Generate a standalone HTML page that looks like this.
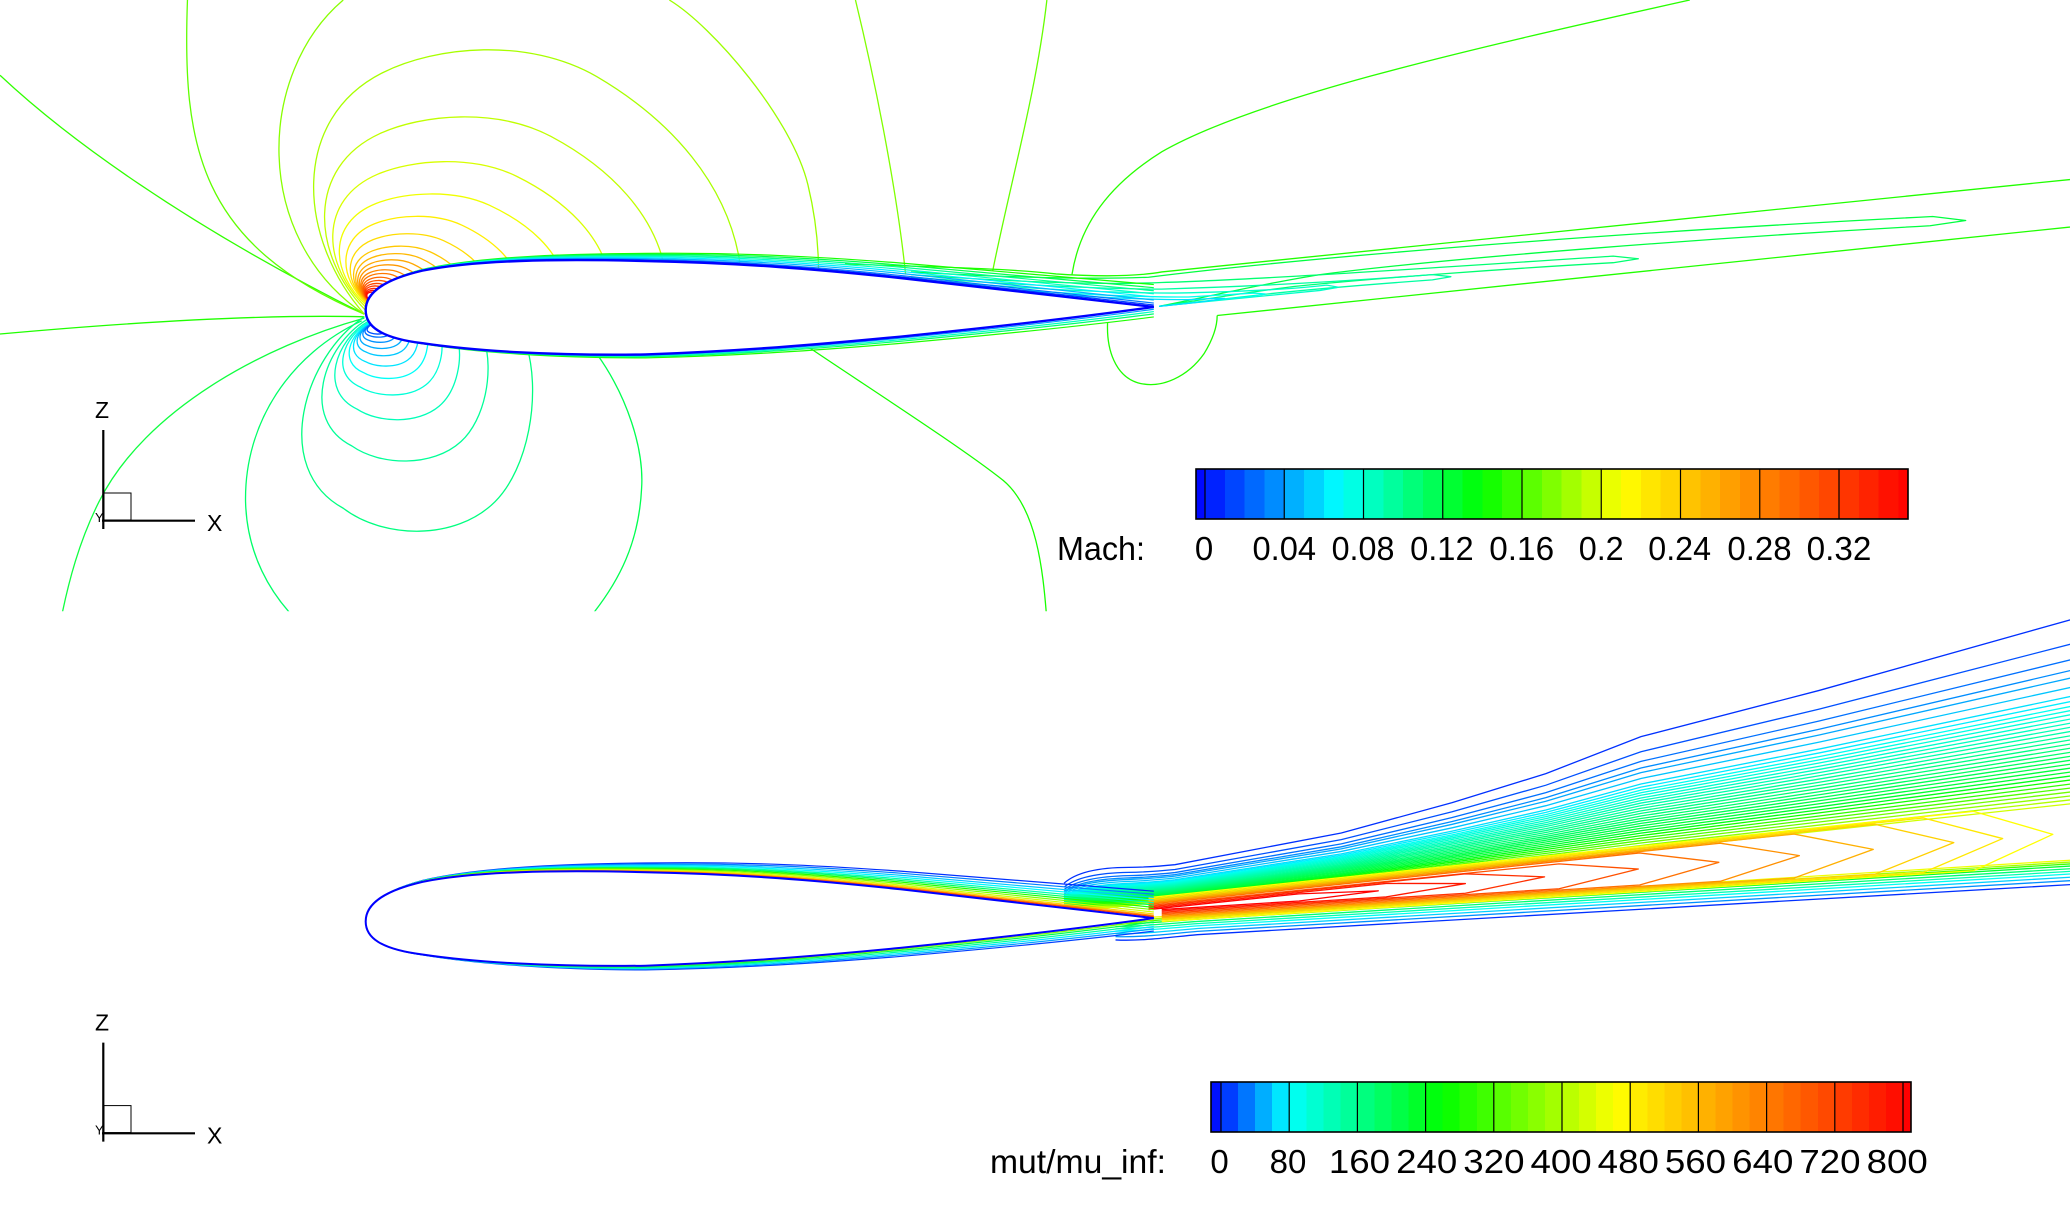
<!DOCTYPE html>
<html>
<head>
<meta charset="utf-8">
<style>
html,body{margin:0;padding:0;background:#fff;overflow:hidden}
svg{display:block}
.c path{fill:none;vector-effect:non-scaling-stroke;stroke-linejoin:round}
text{font-family:"Liberation Sans",Arial,sans-serif;fill:#000}
</style>
</head>
<body>
<svg xmlns="http://www.w3.org/2000/svg" width="2070" height="1227" viewBox="0 0 2070 1227">
<defs>
<clipPath id="ct"><rect x="0" y="0" width="1568" height="463"/></clipPath>
<clipPath id="cb"><rect x="0" y="463.5" width="1568" height="467"/></clipPath>
<path id="up" fill="none" vector-effect="non-scaling-stroke" d="M277,235 C277,222 290,212 320,205 C360,197 420,196 489,197.7 C560,199 620,204 682,210.6 C760,219 820,226 874,232.5"/>
<path id="lo" fill="none" vector-effect="non-scaling-stroke" d="M277,235 C277,247 288,256 320,260 C360,266 420,269.5 489,268.5 C560,266 620,261 682,255 C760,247 820,240 874,232.5"/>
<path id="afp" vector-effect="non-scaling-stroke" d="M277,235 C277,222 290,212 320,205 C360,197 420,196 489,197.7 C560,199 620,204 682,210.6 C760,219 820,226 874,232.5 C820,240 760,247 682,255 C620,261 560,266 489,268.5 C420,269.5 360,266 320,260 C288,256 277,247 277,235 Z"/>
<path id="arc" fill="none" vector-effect="non-scaling-stroke" d="M276,238 C225,180 220,90 290,55 C330,35 400,28 452,58 C510,92 550,140 560,196 L561,212"/>
<path id="lp" fill="none" vector-effect="non-scaling-stroke" d="M276,240 C230,270 205,355 260,385 C290,408 345,410 375,380 C400,355 410,300 399,262 L398,250"/>
<path id="fu" fill="none" vector-effect="non-scaling-stroke" d="M806,669 C815,661 832,657 855,657 C870,657 880,656 890,655 L1016,631 L1100,608 L1171,586 L1243,558 L1378,523 L1570,469"/>
<path id="fl" fill="none" vector-effect="non-scaling-stroke" d="M845,712 C865,713 885,710 907,708 L1570,670"/>
</defs>
<rect width="2070" height="1227" fill="#fff"/>

<g transform="scale(1.32015)">
<!-- ================= TOP PANEL (Mach) ================= -->
<g clip-path="url(#ct)" class="c" stroke-width="1.3">
<path d="M0,57 C50,104 140,170 276,238" stroke="#30ff00"/>
<path d="M142,0 C138,110 150,185 276,238" stroke="#60ff00"/>
<path d="M260,0 C195,55 190,180 276,238" stroke="#88ff00"/>
<path d="M507,0 C540,20 600,90 612,140 C618,165 620,185 620,205" stroke="#9cff00"/>
<path d="M648,0 C665,70 680,150 686,208" stroke="#80ff00"/>
<path d="M793,0 C785,70 765,140 752,205" stroke="#66ff00"/>
<path d="M812,208 C818,170 840,140 880,115 C950,75 1100,40 1280,0" stroke="#28ff00"/>
<path d="M0,253 C100,244 200,238 276,240" stroke="#20ff00"/>
<path d="M276,241 C200,262 110,310 75,380 C60,410 52,440 46,470" stroke="#10ff40"/>
<path d="M274,243 C220,268 185,320 186,380 C187,420 205,450 225,470" stroke="#00ff68"/>
<path d="M452,268 C475,300 488,340 486,370 C484,410 470,440 445,470" stroke="#00ff50"/>
<path d="M614,264 C660,295 730,340 760,364 C785,385 790,430 793,470" stroke="#18ff00"/>

<use href="#arc" stroke="#a8ff00"/>
<use href="#arc" transform="matrix(.80,0,0,.73,55.8,61.02)" stroke="#c0ff00"/>
<use href="#arc" transform="matrix(.65,0,0,.55,97.65,101.7)" stroke="#d8ff00"/>
<use href="#arc" transform="matrix(.53,0,0,.42,131.13,131.08)" stroke="#f0ff00"/>
<use href="#arc" transform="matrix(.41,0,0,.33,164.61,151.42)" stroke="#ffee00"/>
<use href="#arc" transform="matrix(.33,0,0,.26,186.93,167.24)" stroke="#ffdc00"/>
<use href="#arc" transform="matrix(.27,0,0,.21,203.67,178.54)" stroke="#ffc800"/>
<use href="#arc" transform="matrix(.23,0,0,.18,214.83,185.32)" stroke="#ffb800"/>
<use href="#arc" transform="matrix(.195,0,0,.155,224.6,190.97)" stroke="#ffa800"/>
<use href="#arc" transform="matrix(.165,0,0,.135,232.97,195.49)" stroke="#ff9800"/>
<use href="#arc" transform="matrix(.14,0,0,.115,239.94,200.01)" stroke="#ff8800"/>
<use href="#arc" transform="matrix(.12,0,0,.10,245.52,203.4)" stroke="#ff7800"/>
<use href="#arc" transform="matrix(.10,0,0,.085,251.1,206.79)" stroke="#ff6800"/>
<use href="#arc" transform="matrix(.085,0,0,.072,255.29,209.73)" stroke="#ff5800"/>
<use href="#arc" transform="matrix(.07,0,0,.06,259.47,212.44)" stroke="#ff4800"/>
<use href="#arc" transform="matrix(.058,0,0,.05,262.82,214.7)" stroke="#ff3800"/>
<use href="#arc" transform="matrix(.047,0,0,.04,265.89,216.96)" stroke="#ff2800"/>
<use href="#arc" transform="matrix(.037,0,0,.032,268.68,218.77)" stroke="#ff1800"/>
<use href="#arc" transform="matrix(.028,0,0,.025,271.19,220.35)" stroke="#ff0800"/>

<use href="#lp" stroke="#00ff80"/>
<use href="#lp" transform="matrix(.72,0,0,.66,79.24,83.64)" stroke="#00ff98"/>
<use href="#lp" transform="matrix(.54,0,0,.46,130.18,132.84)" stroke="#00ffb8"/>
<use href="#lp" transform="matrix(.43,0,0,.34,161.31,162.36)" stroke="#00ffd8"/>
<use href="#lp" transform="matrix(.34,0,0,.26,186.78,182.04)" stroke="#00fff8"/>
<use href="#lp" transform="matrix(.28,0,0,.20,203.76,196.8)" stroke="#00e4ff"/>
<use href="#lp" transform="matrix(.23,0,0,.15,217.91,209.1)" stroke="#00c8ff"/>
<use href="#lp" transform="matrix(.19,0,0,.115,229.23,217.71)" stroke="#00acff"/>
<use href="#lp" transform="matrix(.15,0,0,.085,240.55,225.09)" stroke="#0090ff"/>
<use href="#lp" transform="matrix(.12,0,0,.06,249.04,231.24)" stroke="#0070ff"/>
<use href="#lp" transform="matrix(.09,0,0,.045,257.53,234.93)" stroke="#0050ff"/>

<path d="M640,200 C700,202 760,203 800,207.5 C830,209.5 860,209.5 880,206 L1568,136" stroke="#20ff00"/>
<path d="M690,206 C760,210 820,212 870,210 C950,200 1150,180 1464,164 L1489,167 L1462,171 C1300,180 1100,195 1000,208 C950,216 910,226 878,232" stroke="#00ff40"/>
<path d="M690,208 C760,213 830,216 880,214 C950,212 1100,202 1222,194 L1241,196 L1222,199 C1150,203 1050,210 980,217 C940,222 905,228 878,232" stroke="#00ff70"/>
<path d="M690,210 C760,215 830,219 880,219 C950,217 1020,213 1085,208 L1099,209.6 L1085,212 C1030,216 980,220 940,225 C915,228 895,230 878,232" stroke="#00ffa0"/>
<path d="M700,212 C780,219 840,222 890,222 C940,221 980,219 1005,216 L1014,217.6 L1000,220 C960,224 920,228 878,232" stroke="#00ffc8"/>
<path d="M710,214 C790,222 850,225 900,225 L950,222 L958.6,222.7 L945,225 C920,227 900,230 878,232" stroke="#00ffee"/>
<path d="M720,216 C800,224 860,227 900,227 L920,226 L927.6,226 L915,228 C900,230 888,231 878,232" stroke="#00e0ff"/>
<path d="M922,239 L1568,172" stroke="#20ff00"/>
<path d="M839,244 C838,265 845,285 862,290 C880,295 900,285 912,268 C920,255 922,245 922,239" stroke="#20ff00"/>

<g stroke-width="1.2">
<use href="#up" transform="matrix(1,-.029,0,1,0,8.41)" stroke="#18ff00"/>
<use href="#up" transform="matrix(1,-.025,0,1,0,7.25)" stroke="#00ff50"/>
<use href="#up" transform="matrix(1,-.021,0,1,0,6.09)" stroke="#00ff90"/>
<use href="#up" transform="matrix(1,-.017,0,1,0,4.93)" stroke="#00ffc8"/>
<use href="#up" transform="matrix(1,-.013,0,1,0,3.77)" stroke="#00f0ff"/>
<use href="#up" transform="matrix(1,-.009,0,1,0,2.61)" stroke="#00b8ff"/>
<use href="#up" transform="matrix(1,-.005,0,1,0,1.45)" stroke="#0078ff"/>
<use href="#up" transform="matrix(1,-.0025,0,1,0,.725)" stroke="#0040ff"/>
<use href="#lo" transform="matrix(1,.013,0,1,0,-3.77)" stroke="#20ff00"/>
<use href="#lo" transform="matrix(1,.009,0,1,0,-2.61)" stroke="#00ff70"/>
<use href="#lo" transform="matrix(1,.006,0,1,0,-1.74)" stroke="#00ffc0"/>
<use href="#lo" transform="matrix(1,.003,0,1,0,-.87)" stroke="#00a0ff"/>
</g>
<use href="#afp" fill="#ffffff" stroke="#0000ff" stroke-width="2.4"/>
</g>

<!-- ================= BOTTOM PANEL (mut/mu_inf) ================= -->
<g clip-path="url(#cb)" class="c" stroke-width="1.3">
<use href="#fu" stroke="#0030ff"/>
<use href="#fu" transform="matrix(1,-.01361,0,.87,0,100.89)" stroke="#0050ff"/>
<use href="#fu" transform="matrix(1,-.0223,0,.787,0,165.31)" stroke="#0070ff"/>
<use href="#fu" transform="matrix(1,-.02827,0,.73,0,209.55)" stroke="#008cff"/>
<use href="#fu" transform="matrix(1,-.03246,0,.69,0,240.59)" stroke="#00a8ff"/>
<use href="#fu" transform="matrix(1,-.03769,0,.64,0,279.40)" stroke="#00c4ff"/>
<use href="#fu" transform="matrix(1,-.04272,0,.592,0,316.65)" stroke="#00e0ff"/>
<use href="#fu" transform="matrix(1,-.04554,0,.565,0,337.60)" stroke="#00eeff"/>
<use href="#fu" transform="matrix(1,-.04827,0,.539,0,357.78)" stroke="#00fff0"/>
<use href="#fu" transform="matrix(1,-.05057,0,.517,0,374.86)" stroke="#00ffe4"/>
<use href="#fu" transform="matrix(1,-.05287,0,.495,0,391.93)" stroke="#00ffd8"/>
<use href="#fu" transform="matrix(1,-.05528,0,.472,0,409.78)" stroke="#00ffcc"/>
<use href="#fu" transform="matrix(1,-.05759,0,.45,0,426.86)" stroke="#00ffc0"/>
<use href="#fu" transform="matrix(1,-.05989,0,.428,0,443.93)" stroke="#00ffb4"/>
<use href="#fu" transform="matrix(1,-.06219,0,.406,0,461.00)" stroke="#00ffa8"/>
<use href="#fu" transform="matrix(1,-.06460,0,.383,0,478.85)" stroke="#00ff9c"/>
<use href="#fu" transform="matrix(1,-.06690,0,.361,0,495.93)" stroke="#00ff90"/>
<use href="#fu" transform="matrix(1,-.06921,0,.339,0,513.00)" stroke="#00ff84"/>
<use href="#fu" transform="matrix(1,-.07151,0,.317,0,530.08)" stroke="#00ff78"/>
<use href="#fu" transform="matrix(1,-.07381,0,.295,0,547.15)" stroke="#00ff6c"/>
<use href="#fu" transform="matrix(1,-.07601,0,.274,0,563.45)" stroke="#00ff60"/>
<use href="#fu" transform="matrix(1,-.07821,0,.253,0,579.75)" stroke="#00ff54"/>
<use href="#fu" transform="matrix(1,-.08041,0,.232,0,596.04)" stroke="#00ff48"/>
<use href="#fu" transform="matrix(1,-.08261,0,.211,0,612.34)" stroke="#00ff3c"/>
<use href="#fu" transform="matrix(1,-.08481,0,.19,0,628.64)" stroke="#00ff30"/>
<use href="#fu" transform="matrix(1,-.08700,0,.169,0,644.94)" stroke="#00ff18"/>
<use href="#fu" transform="matrix(1,-.08920,0,.148,0,661.24)" stroke="#10ff00"/>
<use href="#fu" transform="matrix(1,-.09151,0,.126,0,678.31)" stroke="#30ff00"/>
<use href="#fu" transform="matrix(1,-.09371,0,.105,0,694.61)" stroke="#50ff00"/>
<use href="#fu" transform="matrix(1,-.09591,0,.084,0,710.91)" stroke="#70ff00"/>
<use href="#fu" transform="matrix(1,-.09810,0,.063,0,727.21)" stroke="#90ff00"/>
<use href="#fu" transform="matrix(1,-.10030,0,.042,0,743.50)" stroke="#b0ff00"/>
<use href="#fu" transform="matrix(1,-.10250,0,.021,0,759.80)" stroke="#d0ff00"/>

<use href="#fl" stroke="#0030ff"/>
<use href="#fl" transform="matrix(1,-.009375,0,.85,0,112.2)" stroke="#0090ff"/>
<use href="#fl" transform="matrix(1,-.0175,0,.72,0,209.44)" stroke="#00d0ff"/>
<use href="#fl" transform="matrix(1,-.025,0,.6,0,299.2)" stroke="#00fff0"/>
<use href="#fl" transform="matrix(1,-.03125,0,.5,0,374)" stroke="#00ffb0"/>
<use href="#fl" transform="matrix(1,-.0375,0,.4,0,448.8)" stroke="#00ff70"/>
<use href="#fl" transform="matrix(1,-.04375,0,.3,0,523.6)" stroke="#00ff30"/>
<use href="#fl" transform="matrix(1,-.04875,0,.22,0,583.44)" stroke="#40ff00"/>
<use href="#fl" transform="matrix(1,-.053125,0,.15,0,635.8)" stroke="#a0ff00"/>
<use href="#fl" transform="matrix(1,-.0575,0,.08,0,688.16)" stroke="#f0ff00"/>

<path d="M870,680 L1495,614.6 L1555,632 L1495,659.6 L880,698" stroke="#ffff00"/>
<path d="M870,681 L1457,619.6 L1517,635.2 L1457,660.9 L880,697" stroke="#ffe800"/>
<path d="M870,682 L1420,624.4 L1480,638.3 L1420,662.3 L880,696" stroke="#ffd000"/>
<path d="M870,683 L1359,631.8 L1419,643.4 L1359,665.1 L880,695" stroke="#ffb000"/>
<path d="M870,684 L1303,638.7 L1363,648.1 L1303,667.6 L880,694" stroke="#ff9000"/>
<path d="M870,685 L1242,646.1 L1302,653.2 L1242,670.4 L880,693" stroke="#ff7000"/>
<path d="M870,686 L1181,654.4 L1241,658.3 L1181,673.2 L880,692" stroke="#ff5000"/>
<path d="M870,687 L1110,661.9 L1170,664.2 L1110,676.6 L880,691" stroke="#ff3000"/>
<path d="M870,688 L1050,669.2 L1110,669.3 L1050,679.4 L880,690" stroke="#ff1800"/>
<path d="M870,689 L984,677.1 L1044,674.8 L984,682.5 L880,689" stroke="#ff0000"/>

<g stroke-width="1.2">
<use href="#up" transform="matrix(1,-.035,0,1,0,473.15)" stroke="#0030ff"/>
<use href="#up" transform="matrix(1,-.031,0,1,0,471.99)" stroke="#0080ff"/>
<use href="#up" transform="matrix(1,-.027,0,1,0,470.83)" stroke="#00c8ff"/>
<use href="#up" transform="matrix(1,-.0235,0,1,0,469.815)" stroke="#00f8ff"/>
<use href="#up" transform="matrix(1,-.020,0,1,0,468.8)" stroke="#00ffb0"/>
<use href="#up" transform="matrix(1,-.017,0,1,0,467.93)" stroke="#00ff60"/>
<use href="#up" transform="matrix(1,-.014,0,1,0,467.06)" stroke="#20ff00"/>
<use href="#up" transform="matrix(1,-.011,0,1,0,466.19)" stroke="#80ff00"/>
<use href="#up" transform="matrix(1,-.008,0,1,0,465.32)" stroke="#d0ff00"/>
<use href="#up" transform="matrix(1,-.0055,0,1,0,464.595)" stroke="#ffd000"/>
<use href="#up" transform="matrix(1,-.0035,0,1,0,464.015)" stroke="#ff9000"/>
<use href="#up" transform="matrix(1,-.002,0,1,0,463.58)" stroke="#ff4000"/>
<use href="#lo" transform="matrix(1,.017,0,1,0,457.9)" stroke="#0040ff"/>
<use href="#lo" transform="matrix(1,.014,0,1,0,458.8)" stroke="#00a0ff"/>
<use href="#lo" transform="matrix(1,.011,0,1,0,459.7)" stroke="#00e8ff"/>
<use href="#lo" transform="matrix(1,.008,0,1,0,460.6)" stroke="#00ffa0"/>
<use href="#lo" transform="matrix(1,.005,0,1,0,461.5)" stroke="#00ff50"/>
<use href="#lo" transform="matrix(1,.0025,0,1,0,462.25)" stroke="#80ff00"/>
</g>
<use href="#afp" transform="translate(0,463)" fill="#ffffff" stroke="#0000ff" stroke-width="2"/>
</g>
</g>

<!-- ================= AXIS TRIADS ================= -->
<g stroke="#000" fill="none">
<line x1="103.3" y1="430" x2="103.3" y2="529" stroke-width="2.2"/>
<line x1="102" y1="520.7" x2="195" y2="520.7" stroke-width="2.2"/>
<rect x="104" y="493" width="27" height="27" stroke-width="1"/>
<line x1="103.3" y1="1042.6" x2="103.3" y2="1141.6" stroke-width="2.2"/>
<line x1="102" y1="1133.3" x2="195" y2="1133.3" stroke-width="2.2"/>
<rect x="104" y="1105.6" width="27" height="27" stroke-width="1"/>
</g>
<text x="95" y="418" font-size="23">Z</text>
<text x="207" y="531" font-size="23">X</text>
<text x="95" y="522" font-size="13">Y</text>
<text x="95" y="1030.6" font-size="23">Z</text>
<text x="207" y="1143.6" font-size="23">X</text>
<text x="95" y="1134.6" font-size="13">Y</text>

<!-- ================= MACH COLORBAR (stepped) ================= -->
<g shape-rendering="crispEdges">
<rect x="1196" y="469" width="9.5" height="50" fill="#0008ff"/>
<rect x="1205" y="469" width="20.3" height="50" fill="#0022ff"/>
<rect x="1224.8" y="469" width="20.3" height="50" fill="#0045ff"/>
<rect x="1244.6" y="469" width="20.3" height="50" fill="#0069ff"/>
<rect x="1264.4" y="469" width="20.3" height="50" fill="#008cff"/>
<rect x="1284.25" y="469" width="20.3" height="50" fill="#00b0ff"/>
<rect x="1304.1" y="469" width="20.3" height="50" fill="#00d3ff"/>
<rect x="1323.9" y="469" width="20.3" height="50" fill="#00f7ff"/>
<rect x="1343.7" y="469" width="20.3" height="50" fill="#00ffe4"/>
<rect x="1363.5" y="469" width="20.3" height="50" fill="#00ffc0"/>
<rect x="1383.3" y="469" width="20.3" height="50" fill="#00ff9d"/>
<rect x="1403.1" y="469" width="20.3" height="50" fill="#00ff79"/>
<rect x="1422.9" y="469" width="20.3" height="50" fill="#00ff56"/>
<rect x="1442.75" y="469" width="20.3" height="50" fill="#00ff32"/>
<rect x="1462.6" y="469" width="20.3" height="50" fill="#00ff0f"/>
<rect x="1482.4" y="469" width="20.3" height="50" fill="#15ff00"/>
<rect x="1502.2" y="469" width="20.3" height="50" fill="#38ff00"/>
<rect x="1522" y="469" width="20.3" height="50" fill="#5cff00"/>
<rect x="1541.8" y="469" width="20.3" height="50" fill="#7fff00"/>
<rect x="1561.6" y="469" width="20.3" height="50" fill="#a3ff00"/>
<rect x="1581.4" y="469" width="20.3" height="50" fill="#c6ff00"/>
<rect x="1601.25" y="469" width="20.3" height="50" fill="#eaff00"/>
<rect x="1621.1" y="469" width="20.3" height="50" fill="#fff800"/>
<rect x="1640.9" y="469" width="20.3" height="50" fill="#ffe600"/>
<rect x="1660.7" y="469" width="20.3" height="50" fill="#ffd500"/>
<rect x="1680.5" y="469" width="20.3" height="50" fill="#ffc300"/>
<rect x="1700.3" y="469" width="20.3" height="50" fill="#ffb100"/>
<rect x="1720.1" y="469" width="20.3" height="50" fill="#ff9f00"/>
<rect x="1739.9" y="469" width="20.3" height="50" fill="#ff8e00"/>
<rect x="1759.75" y="469" width="20.3" height="50" fill="#ff7c00"/>
<rect x="1779.6" y="469" width="20.3" height="50" fill="#ff6a00"/>
<rect x="1799.4" y="469" width="20.3" height="50" fill="#ff5800"/>
<rect x="1819.2" y="469" width="20.3" height="50" fill="#ff4700"/>
<rect x="1839" y="469" width="20.3" height="50" fill="#ff3500"/>
<rect x="1858.8" y="469" width="20.3" height="50" fill="#ff2300"/>
<rect x="1878.6" y="469" width="20.3" height="50" fill="#ff1100"/>
<rect x="1898.4" y="469" width="9.6" height="50" fill="#ff0400"/>
</g>
<g stroke="#000" stroke-width="1.2">
<line x1="1205" y1="469" x2="1205" y2="519"/>
<line x1="1284.25" y1="469" x2="1284.25" y2="519"/>
<line x1="1363.5" y1="469" x2="1363.5" y2="519"/>
<line x1="1442.75" y1="469" x2="1442.75" y2="519"/>
<line x1="1522" y1="469" x2="1522" y2="519"/>
<line x1="1601.25" y1="469" x2="1601.25" y2="519"/>
<line x1="1680.5" y1="469" x2="1680.5" y2="519"/>
<line x1="1759.75" y1="469" x2="1759.75" y2="519"/>
<line x1="1839" y1="469" x2="1839" y2="519"/>
</g>
<rect x="1196" y="469" width="712" height="50" fill="none" stroke="#000" stroke-width="1.6"/>
<g font-size="33">
<text x="1057" y="560" textLength="88" lengthAdjust="spacingAndGlyphs">Mach:</text>
<text x="1204" y="560" text-anchor="middle">0</text>
<text x="1252.5" y="560" textLength="63.5" lengthAdjust="spacingAndGlyphs">0.04</text>
<text x="1331.6" y="560" textLength="62.8" lengthAdjust="spacingAndGlyphs">0.08</text>
<text x="1410.1" y="560" textLength="63.5" lengthAdjust="spacingAndGlyphs">0.12</text>
<text x="1489.3" y="560" textLength="64.8" lengthAdjust="spacingAndGlyphs">0.16</text>
<text x="1578.7" y="560" textLength="45" lengthAdjust="spacingAndGlyphs">0.2</text>
<text x="1648.3" y="560" textLength="62.7" lengthAdjust="spacingAndGlyphs">0.24</text>
<text x="1727.4" y="560" textLength="64.2" lengthAdjust="spacingAndGlyphs">0.28</text>
<text x="1806.6" y="560" textLength="64.8" lengthAdjust="spacingAndGlyphs">0.32</text>
</g>

<!-- ================= MUT COLORBAR (stepped) ================= -->
<g shape-rendering="crispEdges">
<rect x="1211" y="1082" width="10.5" height="50" fill="#0011ff"/>
<rect x="1221" y="1082" width="17.5" height="50" fill="#003dff"/>
<rect x="1238.05" y="1082" width="17.5" height="50" fill="#0076ff"/>
<rect x="1255.1" y="1082" width="17.5" height="50" fill="#00aeff"/>
<rect x="1272.15" y="1082" width="17.5" height="50" fill="#00e7ff"/>
<rect x="1289.2" y="1082" width="17.5" height="50" fill="#00ffef"/>
<rect x="1306.25" y="1082" width="17.5" height="50" fill="#00ffd2"/>
<rect x="1323.3" y="1082" width="17.5" height="50" fill="#00ffb6"/>
<rect x="1340.35" y="1082" width="17.5" height="50" fill="#00ff9a"/>
<rect x="1357.4" y="1082" width="17.5" height="50" fill="#00ff7e"/>
<rect x="1374.45" y="1082" width="17.5" height="50" fill="#00ff62"/>
<rect x="1391.5" y="1082" width="17.5" height="50" fill="#00ff46"/>
<rect x="1408.55" y="1082" width="17.5" height="50" fill="#00ff29"/>
<rect x="1425.6" y="1082" width="17.5" height="50" fill="#00ff0d"/>
<rect x="1442.65" y="1082" width="17.5" height="50" fill="#0dff00"/>
<rect x="1459.7" y="1082" width="17.5" height="50" fill="#26ff00"/>
<rect x="1476.75" y="1082" width="17.5" height="50" fill="#3fff00"/>
<rect x="1493.8" y="1082" width="17.5" height="50" fill="#58ff00"/>
<rect x="1510.85" y="1082" width="17.5" height="50" fill="#71ff00"/>
<rect x="1527.9" y="1082" width="17.5" height="50" fill="#8aff00"/>
<rect x="1544.95" y="1082" width="17.5" height="50" fill="#a3ff00"/>
<rect x="1562" y="1082" width="17.5" height="50" fill="#bbff00"/>
<rect x="1579.05" y="1082" width="17.5" height="50" fill="#d4ff00"/>
<rect x="1596.1" y="1082" width="17.5" height="50" fill="#edff00"/>
<rect x="1613.15" y="1082" width="17.5" height="50" fill="#fffb00"/>
<rect x="1630.2" y="1082" width="17.5" height="50" fill="#ffec00"/>
<rect x="1647.25" y="1082" width="17.5" height="50" fill="#ffdd00"/>
<rect x="1664.3" y="1082" width="17.5" height="50" fill="#ffce00"/>
<rect x="1681.35" y="1082" width="17.5" height="50" fill="#ffc000"/>
<rect x="1698.4" y="1082" width="17.5" height="50" fill="#ffb100"/>
<rect x="1715.45" y="1082" width="17.5" height="50" fill="#ffa200"/>
<rect x="1732.5" y="1082" width="17.5" height="50" fill="#ff9300"/>
<rect x="1749.55" y="1082" width="17.5" height="50" fill="#ff8400"/>
<rect x="1766.6" y="1082" width="17.5" height="50" fill="#ff7600"/>
<rect x="1783.65" y="1082" width="17.5" height="50" fill="#ff6700"/>
<rect x="1800.7" y="1082" width="17.5" height="50" fill="#ff5800"/>
<rect x="1817.75" y="1082" width="17.5" height="50" fill="#ff4900"/>
<rect x="1834.8" y="1082" width="17.5" height="50" fill="#ff3b00"/>
<rect x="1851.85" y="1082" width="17.5" height="50" fill="#ff2c00"/>
<rect x="1868.9" y="1082" width="17.5" height="50" fill="#ff1d00"/>
<rect x="1885.95" y="1082" width="17.5" height="50" fill="#ff0e00"/>
<rect x="1903" y="1082" width="8" height="50" fill="#ff0000"/>
</g>
<g stroke="#000" stroke-width="1.2">
<line x1="1221" y1="1082" x2="1221" y2="1132"/>
<line x1="1289.2" y1="1082" x2="1289.2" y2="1132"/>
<line x1="1357.4" y1="1082" x2="1357.4" y2="1132"/>
<line x1="1425.6" y1="1082" x2="1425.6" y2="1132"/>
<line x1="1493.8" y1="1082" x2="1493.8" y2="1132"/>
<line x1="1562" y1="1082" x2="1562" y2="1132"/>
<line x1="1630.2" y1="1082" x2="1630.2" y2="1132"/>
<line x1="1698.4" y1="1082" x2="1698.4" y2="1132"/>
<line x1="1766.6" y1="1082" x2="1766.6" y2="1132"/>
<line x1="1834.8" y1="1082" x2="1834.8" y2="1132"/>
<line x1="1903" y1="1082" x2="1903" y2="1132"/>
</g>
<rect x="1211" y="1082" width="700" height="50" fill="none" stroke="#000" stroke-width="1.6"/>
<g font-size="33">
<text x="990" y="1173" textLength="176" lengthAdjust="spacingAndGlyphs">mut/mu_inf:</text>
<text x="1219.5" y="1173" text-anchor="middle">0</text>
<text x="1288" y="1173" text-anchor="middle">80</text>
<text x="1328.9" y="1173" textLength="61.2" lengthAdjust="spacingAndGlyphs">160</text>
<text x="1396.1" y="1173" textLength="61.2" lengthAdjust="spacingAndGlyphs">240</text>
<text x="1463.3" y="1173" textLength="61.2" lengthAdjust="spacingAndGlyphs">320</text>
<text x="1530.5" y="1173" textLength="61.2" lengthAdjust="spacingAndGlyphs">400</text>
<text x="1597.7" y="1173" textLength="61.2" lengthAdjust="spacingAndGlyphs">480</text>
<text x="1664.9" y="1173" textLength="61.2" lengthAdjust="spacingAndGlyphs">560</text>
<text x="1732.2" y="1173" textLength="61.2" lengthAdjust="spacingAndGlyphs">640</text>
<text x="1799.4" y="1173" textLength="61.2" lengthAdjust="spacingAndGlyphs">720</text>
<text x="1866.6" y="1173" textLength="61.2" lengthAdjust="spacingAndGlyphs">800</text>
</g>
</svg>
</body>
</html>
